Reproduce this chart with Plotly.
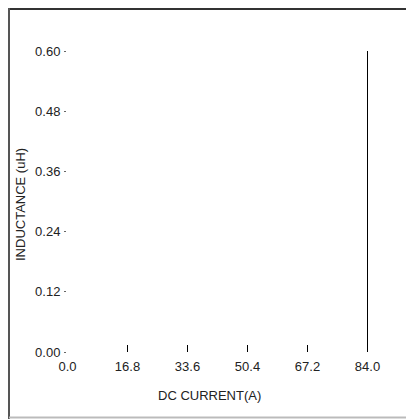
import plotly.graph_objects as go

# data
current = [84.0, 84.0]
inductance = [0.0, 0.60]
x_ticks = [0.0, 16.8, 33.6, 50.4, 67.2, 84.0]
x_labels = ["0.0", "16.8", "33.6", "50.4", "67.2", "84.0"]
y_ticks = [0.0, 0.12, 0.24, 0.36, 0.48, 0.60]
y_labels = ["0.00", "0.12", "0.24", "0.36", "0.48", "0.60"]

# page body adds an 8px offset; positions below are in figure pixels
OFF = 8
W, H = 414, 419
L, T = 67 - OFF, 51 - OFF
B = H - (352 - OFF)
R = 26
pw, ph = W - L - R, H - T - B
FONT = dict(family="Liberation Sans, Arial, sans-serif", size=13, color="#222")
UPP = 84 / 300  # x units per pixel
x0 = -0.5 * UPP  # half-pixel shift for crisp 1px lines

def px(x):
    return (x - OFF - L) / pw

def py(y):
    return (H - B - (y - OFF)) / ph

fig = go.Figure()
fig.add_trace(go.Scatter(x=current, y=inductance, mode="lines",
                         line=dict(color="#000", width=1),
                         showlegend=False, hoverinfo="skip"))

fig.update_layout(
    width=W, height=H,
    margin=dict(l=L, r=R, t=T, b=B, pad=0),
    paper_bgcolor="white", plot_bgcolor="white",
    font=FONT,
    xaxis=dict(range=[x0, x0 + pw * UPP], tickvals=x_ticks, ticktext=x_labels,
               ticks="inside", ticklen=7, tickwidth=1, tickcolor="#000",
               showgrid=False, zeroline=False, showline=False,
               ticklabelstandoff=5, fixedrange=True),
    yaxis=dict(range=[0, 0.6], tickvals=y_ticks, ticktext=y_labels,
               ticks="outside", ticklen=2, tickwidth=1, tickcolor="#666",
               showgrid=False, zeroline=False, showline=False,
               ticklabelstandoff=1, fixedrange=True),
    annotations=[
        dict(text="DC CURRENT(A)", xref="paper", yref="paper",
             x=px(209), y=py(395), showarrow=False, font=FONT,
             xanchor="center", yanchor="middle"),
        dict(text="INDUCTANCE (uH)", xref="paper", yref="paper",
             x=px(20), y=py(205), showarrow=False, font=FONT, textangle=-90,
             xanchor="center", yanchor="middle"),
    ],
    shapes=[
        dict(type="line", xref="paper", yref="paper", x0=px(8), x1=px(430),
             y0=py(9), y1=py(9), line=dict(color="#333", width=2)),
        dict(type="line", xref="paper", yref="paper", x0=px(9), x1=px(9),
             y0=py(8), y1=py(430), line=dict(color="#555", width=2)),
        dict(type="line", xref="paper", yref="paper", x0=px(9), x1=px(430),
             y0=py(417.5), y1=py(417.5), line=dict(color="#bbb", width=2)),
    ],
)

fig.write_html("out.html")
